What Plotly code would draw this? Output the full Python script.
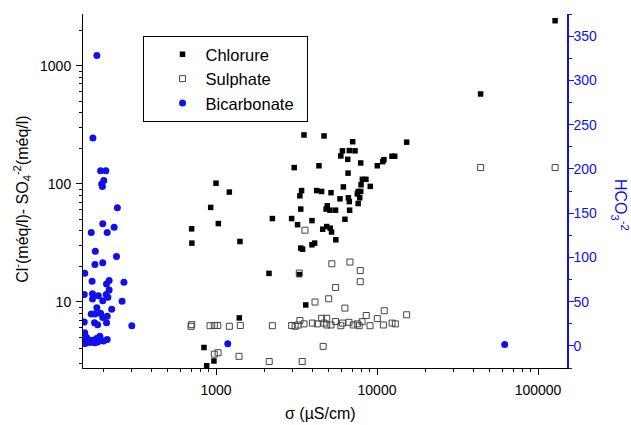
import plotly.graph_objects as go

# Chlorure (Cl-, méq/l) vs conductivity (µS/cm) -- left log axis
chl_x = [1000, 1210, 927, 1034, 706, 708, 1409, 2134, 1396, 842, 971, 875,
         3400, 3320, 3360, 2240, 2950, 3210, 3360, 3450, 3610, 3520, 3060,
         4690, 7060, 6100, 6730, 7300, 5960, 6580, 7920, 15280, 12880, 12390,
         11040, 10860, 10040, 4360, 6610, 8110, 8530, 7960, 9080, 6180, 7640,
         7920, 4220, 4530, 5180, 7550, 7810, 6640, 5890, 6730, 7640, 4910,
         4830, 5100, 5530, 6760, 6320, 3945, 4870, 4600, 5120, 5220, 5550,
         4100, 3945, 44000, 127700, 3290]
chl_y = [101, 85, 63, 46, 41.5, 31.4, 32.4, 17.4, 7.3, 4.1, 3.15, 2.87,
         87.5, 79, 61, 50.7, 50.7, 45, 28.5, 27.9, 9.4, 259, 137,
         254, 227, 190, 191, 190, 172, 161, 150, 225, 171, 171,
         160, 154, 142, 142, 123, 109, 109, 98, 95, 94, 86,
         86, 87.5, 86, 84, 82, 76, 76, 74.5, 70.6, 68, 65,
         61, 59.7, 59.7, 59.7, 50, 48.7, 43.4, 41.2, 42, 39, 33.5,
         31.4, 30.4, 576, 2405, 17.0]

# Sulphate (SO4-2, méq/l) -- left log axis
sul_x = [706, 700, 918, 976, 1025, 1210, 1416, 2240, 2950, 3100, 3240, 3320,
         3520, 976, 1030, 1390, 2140, 3430, 3290, 3570, 44000, 127700, 5240,
         6790, 7870, 7870, 5530, 5010, 4120, 6320, 11090, 8570, 10040, 15280,
         3970, 4260, 4530, 4870, 4690, 4870, 5180, 5530, 5960, 6100, 6700,
         7130, 7550, 7750, 8080, 9050, 10950, 12400, 13000, 4630]
sul_y = [6.4, 6.2, 6.27, 6.3, 6.3, 6.2, 6.3, 6.27, 6.3, 6.2, 6.35, 6.95,
         6.5, 3.6, 3.7, 3.45, 3.12, 3.12, 17.5, 40.4, 137, 137, 21,
         21.7, 18.4, 14.8, 13.2, 10.6, 9.95, 8.84, 8.4, 7.65, 7.2, 7.76,
         6.6, 6.5, 7.25, 7.25, 6.6, 6.36, 6.36, 6.8, 6.27, 6.6, 6.7,
         6.36, 6.5, 6.27, 6.78, 6.27, 6.36, 6.6, 6.5, 4.19]

# Bicarbonate (HCO3-2) -- right linear axis
bic_x = [182, 172, 192, 207, 201, 195, 197, 244, 198, 233, 168, 211, 178, 241,
         177, 198, 153, 170, 217, 268, 209, 152, 171, 186, 208, 217, 213, 198,
         171, 261, 225, 182, 168, 177, 192, 211, 198, 152, 176, 184, 209, 300,
         153, 157, 169, 181, 190, 200, 211, 177, 164, 151, 154, 164, 172, 184,
         1183, 62100]
bic_y = [328, 235, 198, 198, 187, 183, 180, 156, 138, 134, 128, 128, 107, 101,
         92, 94, 82, 73, 74, 72, 70, 58, 59, 56.5, 58, 63, 55, 51,
         53, 50.5, 41.5, 43, 36, 36, 37, 33.6, 32, 27, 26, 24, 26, 22.6,
         14.7, 9.5, 6.4, 8.4, 11, 5.6, 7.2, 3.4, 3.8, 5.6, 2.7, 5.3, 4.5, 4.5,
         2.3, 1.6]

FONT = "Arial, Liberation Sans, sans-serif"
BLUE = "#1010ee"
NB = "\u00a0"

fig = go.Figure()
fig.add_trace(go.Scatter(x=chl_x, y=chl_y, mode="markers", name="Chlorure" + NB * 7,
                         marker=dict(symbol="square", size=5.5, color="black")))
fig.add_trace(go.Scatter(x=sul_x, y=sul_y, mode="markers", name="Sulphate",
                         marker=dict(symbol="square-open", size=6, color="#444444",
                                     line=dict(width=1))))
fig.add_trace(go.Scatter(x=bic_x, y=bic_y, mode="markers", name="Bicarbonate",
                         yaxis="y2",
                         marker=dict(symbol="circle", size=7, color=BLUE)))

fig.update_layout(
    width=631, height=425,
    margin=dict(l=83, r=64, t=14, b=57),
    paper_bgcolor="white", plot_bgcolor="white",
    font=dict(family=FONT, size=14, color="black"),
    showlegend=True,
    legend=dict(x=0.123, y=0.938, xanchor="left", yanchor="top",
                bordercolor="black", borderwidth=1, bgcolor="white",
                font=dict(size=16.5), itemwidth=36, indentation=16,
                tracegroupgap=0),
    xaxis=dict(type="log", range=[2.174, 5.18], dtick=1, showgrid=False,
               zeroline=False, showline=True, linecolor="black", linewidth=1,
               ticks="outside", ticklen=6, tickcolor="black", ticklabelstandoff=3,
               tickvals=[1000, 10000, 100000], ticktext=["1000", "10000", "100000"],
               minor=dict(ticks="outside", ticklen=3, dtick="D1", tickcolor="black", showgrid=False),
               tickfont=dict(size=14)),
    xaxis2=dict(type="log", range=[2.174, 5.18], overlaying="x", side="top",
                showgrid=False, zeroline=False, showline=True, linecolor="black",
                linewidth=1, ticks="inside", ticklen=6, tickcolor="black",
                tickvals=[1000, 10000, 100000], showticklabels=False,
                minor=dict(ticks="inside", ticklen=3, dtick="D1", tickcolor="black", showgrid=False)),
    yaxis=dict(type="log", range=[0.439, 3.438], showgrid=False, zeroline=False,
               showline=True, linecolor="black", linewidth=1,
               ticks="outside", ticklen=6, tickcolor="black", ticklabelstandoff=2,
               tickvals=[10, 100, 1000], ticktext=["10", "100", "1000"],
               minor=dict(ticks="outside", ticklen=3, dtick="D1", tickcolor="black", showgrid=False),
               tickfont=dict(size=14)),
    yaxis2=dict(overlaying="y", side="right", range=[-25, 375], showgrid=False,
                zeroline=False, showline=True, linecolor=BLUE, linewidth=1.5,
                ticks="outside", ticklen=5, tickcolor=BLUE, dtick=50, tick0=0,
                ticklabelstandoff=-3,
                minor=dict(ticks="outside", ticklen=3, dtick=25, tickcolor=BLUE),
                tickfont=dict(size=14, color=BLUE)),
)

fig.add_annotation(text="σ (µS/cm)", xref="paper", yref="paper",
                   x=0.49, y=-0.128, xanchor="center", yanchor="middle",
                   showarrow=False, font=dict(size=16))
fig.add_annotation(text="Cl<sup>-</sup>(méq/l)- SO<sub>4</sub><sup>-2</sup>(méq/l)",
                   xref="paper", yref="paper", x=-0.126, y=0.475,
                   xanchor="center", yanchor="middle", textangle=-90,
                   showarrow=False, font=dict(size=16))
fig.add_annotation(text="HCO<sub>3</sub><sup>-2</sup>",
                   xref="paper", yref="paper", x=1.11, y=0.46,
                   xanchor="center", yanchor="middle", textangle=90,
                   showarrow=False, font=dict(size=16, color=BLUE))

fig.write_html("out.html")
